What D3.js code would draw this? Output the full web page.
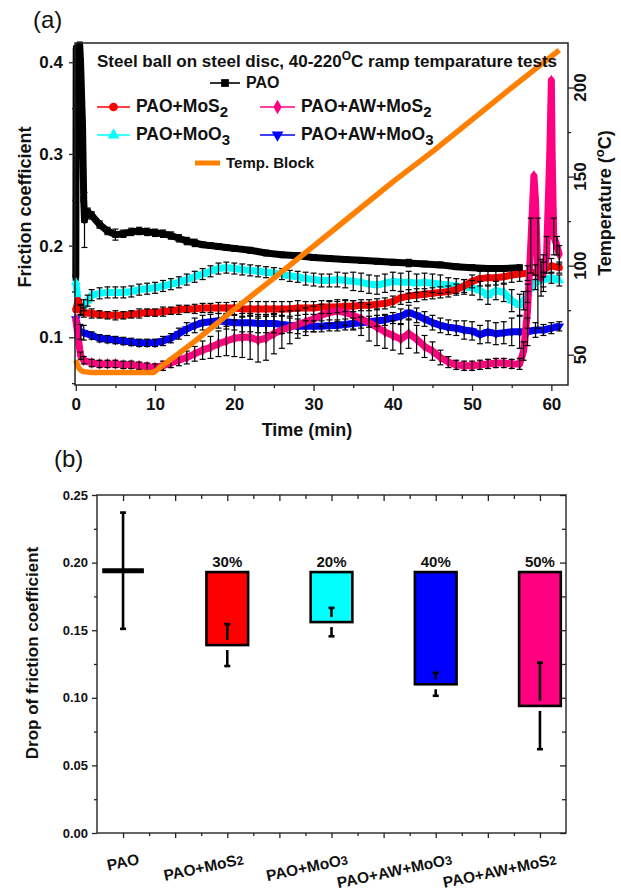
<!DOCTYPE html>
<html>
<head>
<meta charset="utf-8">
<script src="https://cdn.jsdelivr.net/npm/d3@7"></script>
<style>
  body { margin: 0; background: #fff; }
  svg { display: block; font-family: 'Liberation Sans', Arial, sans-serif; }
</style>
</head>
<body>
<div id="chart"></div>
<script>
// ---- panel (a): friction coefficient vs time, [min, mu, error bar]
const paoData = [
  [0,0.165,0],[0.05,0.415,0],[0.5,0.418,0.004],[0.6,0.4,0.004],[0.85,0.33,0],[1,0.25,0],[1.1,0.228,0.03],
  [1.5,0.237,0.004],[2,0.233,0.004],[3,0.223,0.004],[4,0.216,0.004],[5,0.212,0.006],[6,0.213,0.004],
  [7,0.215,0.004],[8,0.216,0.004],[9,0.215,0.004],[10,0.214,0.004],[11,0.213,0.004],[12,0.211,0.004],
  [13,0.208,0.004],[14,0.205,0.004],[15,0.203,0.004],[16,0.201,0.003],[17,0.2,0.003],[18,0.199,0.003],
  [19,0.198,0.003],[20,0.197,0.003],[22,0.195,0.003],[24,0.192,0.003],[26,0.19,0.003],[28,0.189,0.003],
  [30,0.187,0.003],[32,0.186,0.003],[34,0.185,0.003],[36,0.184,0.003],[38,0.183,0.003],[40,0.182,0.003],
  [42,0.181,0.004],[44,0.18,0.003],[46,0.179,0.003],[48,0.177,0.003],[50,0.176,0.003],[52,0.175,0.003],
  [54,0.175,0.003],[56,0.176,0.003]
];
const mos2Data = [
  [0,0.13,0],[0.3,0.14,0],[0.6,0.13,0.005],[1,0.127,0.005],[2,0.126,0.005],[3,0.125,0.004],[4,0.124,0.004],
  [5,0.124,0.005],[6,0.124,0.004],[7,0.125,0.004],[8,0.126,0.005],[9,0.127,0.004],[10,0.127,0.004],
  [11,0.128,0.005],[12,0.129,0.004],[13,0.13,0.005],[14,0.131,0.004],[15,0.131,0.005],[16,0.132,0.005],
  [17,0.132,0.005],[18,0.132,0.006],[19,0.132,0.006],[20,0.132,0.007],[21,0.131,0.008],[22,0.131,0.008],
  [23,0.131,0.008],[24,0.131,0.008],[25,0.131,0.008],[26,0.131,0.008],[27,0.131,0.008],[28,0.132,0.008],
  [29,0.132,0.007],[30,0.132,0.007],[31,0.133,0.007],[32,0.133,0.007],[33,0.133,0.006],[34,0.134,0.006],
  [35,0.134,0.006],[36,0.135,0.006],[37,0.135,0.006],[38,0.136,0.006],[39,0.137,0.006],[40,0.139,0.006],
  [41,0.143,0.007],[42,0.145,0.007],[43,0.146,0.007],[44,0.147,0.006],[45,0.148,0.006],[46,0.149,0.006],
  [47,0.15,0.006],[48,0.152,0.006],[49,0.156,0.007],[50,0.161,0.007],[51,0.164,0.008],[52,0.165,0.008],
  [53,0.165,0.008],[54,0.166,0.008],[55,0.168,0.008],[56,0.169,0.008],[57,0.17,0.008],[58,0.171,0.008],
  [59,0.174,0.008],[60,0.178,0.008],[61,0.176,0.006]
];
const moo3Data = [
  [0,0.16,0],[0.3,0.14,0],[0.6,0.13,0.006],[1,0.135,0.006],[1.5,0.14,0.006],[2,0.146,0.006],[3,0.148,0.006],
  [4,0.149,0.006],[5,0.149,0.006],[6,0.149,0.006],[7,0.15,0.006],[8,0.152,0.006],[9,0.153,0.006],
  [10,0.154,0.006],[11,0.156,0.006],[12,0.158,0.006],[13,0.16,0.006],[14,0.163,0.006],[15,0.166,0.006],
  [16,0.169,0.006],[17,0.172,0.006],[18,0.175,0.006],[19,0.176,0.006],[20,0.175,0.006],[21,0.174,0.006],
  [22,0.173,0.006],[23,0.172,0.006],[24,0.171,0.006],[25,0.17,0.006],[26,0.169,0.006],[27,0.167,0.006],
  [28,0.166,0.006],[29,0.164,0.007],[30,0.163,0.007],[31,0.162,0.007],[32,0.162,0.007],[33,0.163,0.008],
  [34,0.162,0.008],[35,0.161,0.01],[36,0.16,0.01],[37,0.158,0.01],[38,0.157,0.01],[39,0.159,0.01],
  [40,0.161,0.01],[41,0.16,0.01],[42,0.16,0.012],[43,0.159,0.01],[44,0.16,0.01],[45,0.159,0.01],
  [46,0.158,0.01],[47,0.157,0.008],[48,0.156,0.008],[49,0.155,0.008],[50,0.154,0.008],[51,0.151,0.01],
  [52,0.146,0.01],[53,0.151,0.01],[54,0.149,0.01],[55,0.14,0.012],[56,0.135,0.012],[56.5,0.14,0.01],
  [57,0.148,0.01],[58,0.16,0.008],[59,0.163,0.008],[60,0.165,0.006],[61,0.162,0.006]
];
const awMoo3Data = [
  [0,0.12,0],[0.3,0.11,0],[0.6,0.106,0.008],[1,0.105,0.008],[2,0.102,0.004],[3,0.099,0.004],[4,0.098,0.004],
  [5,0.097,0.004],[6,0.096,0.004],[7,0.095,0.004],[8,0.094,0.004],[9,0.094,0.004],[10,0.094,0.004],
  [11,0.096,0.005],[12,0.099,0.005],[13,0.104,0.006],[14,0.109,0.007],[15,0.113,0.008],[16,0.116,0.008],
  [17,0.117,0.008],[18,0.118,0.008],[19,0.117,0.008],[20,0.116,0.008],[21,0.116,0.01],[22,0.116,0.01],
  [23,0.115,0.01],[24,0.115,0.01],[25,0.115,0.01],[26,0.114,0.01],[27,0.113,0.008],[28,0.112,0.008],
  [29,0.112,0.006],[30,0.112,0.006],[31,0.112,0.006],[32,0.113,0.006],[33,0.113,0.006],[34,0.114,0.006],
  [35,0.115,0.006],[36,0.116,0.006],[37,0.117,0.006],[38,0.118,0.006],[39,0.119,0.006],[40,0.121,0.006],
  [41,0.123,0.008],[42,0.127,0.008],[43,0.124,0.008],[44,0.12,0.008],[45,0.116,0.008],[46,0.113,0.008],
  [47,0.111,0.008],[48,0.11,0.008],[49,0.108,0.01],[50,0.107,0.01],[51,0.103,0.01],[52,0.106,0.012],
  [53,0.104,0.012],[54,0.105,0.012],[55,0.106,0.015],[56,0.106,0.018],[57,0.106,0.015],[58,0.108,0.008],
  [59,0.108,0.006],[60,0.11,0.006],[61,0.112,0.005]
];
const awMos2Data = [
  [0,0.12,0],[0.3,0.1,0],[0.6,0.08,0.004],[1,0.075,0.004],[2,0.072,0.004],[3,0.071,0.004],[4,0.071,0.004],
  [5,0.071,0.004],[6,0.07,0.004],[7,0.07,0.004],[8,0.069,0.004],[9,0.068,0.004],[10,0.067,0.004],
  [11,0.069,0.005],[12,0.072,0.005],[13,0.075,0.006],[14,0.078,0.007],[15,0.082,0.008],[16,0.086,0.01],
  [17,0.089,0.012],[18,0.093,0.014],[19,0.096,0.016],[20,0.099,0.02],[21,0.1,0.022],[22,0.1,0.024],
  [23,0.097,0.024],[24,0.099,0.024],[25,0.104,0.022],[26,0.108,0.02],[27,0.111,0.018],[28,0.114,0.015],
  [29,0.117,0.015],[30,0.12,0.014],[31,0.124,0.012],[32,0.127,0.012],[33,0.129,0.012],[34,0.127,0.014],
  [35,0.124,0.016],[36,0.12,0.018],[37,0.116,0.02],[38,0.111,0.02],[39,0.106,0.018],[40,0.102,0.016],
  [41,0.098,0.016],[42,0.104,0.016],[43,0.098,0.015],[44,0.09,0.012],[45,0.085,0.01],[46,0.078,0.008],
  [47,0.073,0.006],[48,0.07,0.005],[49,0.069,0.005],[50,0.069,0.005],[51,0.07,0.005],[52,0.071,0.005],
  [53,0.072,0.005],[54,0.072,0.005],[55,0.071,0.005],[56,0.071,0.006],[56.5,0.085,0.01],[57,0.13,0.02],
  [57.4,0.2,0.03],[57.8,0.276,0],[58,0.25,0],[58.3,0.17,0.06],[58.7,0.165,0.02],[59,0.17,0.02],
  [59.4,0.19,0.02],[59.8,0.3,0],[60,0.38,0],[60.1,0.3,0],[60.3,0.21,0.02],[60.7,0.2,0.01],[61,0.19,0.01]
];
// block temperature, [min, degC]
const tempData = [
  [0,47],[0.3,43],[0.7,41],[1,40.5],[2,40],[5,40],[9.8,40],[15,57.5],[20,75.5],[25,93],[30,111],
  [35,129],[40,147],[45,164],[50,182],[55,200],[60,217.5],[61,221]
];
const frictionTicks = [0.1, 0.2, 0.3, 0.4];
const timeTicks = [0, 10, 20, 30, 40, 50, 60];
const tempTicks = [50, 100, 150, 200];

// ---- panel (b): drop of friction coefficient
const barCategories = ['PAO', 'PAO+MoS2', 'PAO+MoO3', 'PAO+AW+MoO3', 'PAO+AW+MoS2'];
const barValues = [0.194, 0.139, 0.156, 0.110, 0.094];
const barErrors = [0.043, 0.0155, 0.0105, 0.0085, 0.032];
const barDrops = ['', '30%', '20%', '40%', '50%'];
const paoLevel = 0.193;
const dropTicks = [0, 0.05, 0.10, 0.15, 0.20, 0.25];

const W = 621, H = 896;
const svg = d3.select('#chart').append('svg')
  .attr('width', W)
  .attr('height', H);

const chemText = (sel, label, subSize, dy) => {
  const m = label.match(/^(.*?)(\d?)$/);
  sel.append('tspan').text(m[1]);
  if (m[2]) {
    sel.append('tspan').attr('font-size', subSize).attr('dy', dy).text(m[2]);
  }
  return sel;
};

// ================= panel (a) =================
const a = {left: 75, right: 568, top: 43, bottom: 385};
const x = d3.scaleLinear([-0.1, 62.1], [a.left, a.right]);
const y = d3.scaleLinear([0.048, 0.421], [a.bottom, a.top]);
const yT = d3.scaleLinear([33, 225], [a.bottom, a.top]);

const series = [
  {name: 'PAO', data: paoData, color: '#000000', symbol: d3.symbolSquare, size: 40},
  {name: 'PAO+MoO3', data: moo3Data, color: '#00ffff', symbol: d3.symbolTriangle, size: 40},
  {name: 'PAO+MoS2', data: mos2Data, color: '#ff0000', symbol: d3.symbolCircle, size: 40},
  {name: 'PAO+AW+MoO3', data: awMoo3Data, color: '#0000ff', symbol: d3.symbolTriangle, size: 40, down: true},
  {name: 'PAO+AW+MoS2', data: awMos2Data, color: '#ff0080', symbol: d3.symbolDiamond, size: 40}
];

const plotA = svg.append('g');
const line = d3.line().x(d => x(d[0])).y(d => y(d[1]));

series.forEach(s => {
  const g = plotA.append('g');
  g.append('path')
    .datum(s.data)
    .attr('d', line)
    .attr('fill', 'none')
    .attr('stroke', s.color)
    .attr('stroke-width', 7)
    .attr('stroke-linejoin', 'round');
  g.selectAll('path.mk')
    .data(s.data)
    .join('path')
      .attr('class', 'mk')
      .attr('d', d3.symbol(s.symbol, s.size))
      .attr('transform', d => `translate(${x(d[0])},${y(d[1])})${s.down ? ' rotate(180)' : ''}`)
      .attr('fill', s.color);
});

// error bars on top of the bands
series.forEach(s => {
  const eb = plotA.append('g')
      .attr('stroke', '#000')
      .attr('stroke-width', 1.2)
    .selectAll('g')
    .data(s.data.filter(d => d[2] > 0))
    .join('g');
  eb.append('line')
    .attr('x1', d => x(d[0])).attr('x2', d => x(d[0]))
    .attr('y1', d => y(d[1] - d[2])).attr('y2', d => y(d[1] + d[2]));
  eb.append('line')
    .attr('x1', d => x(d[0]) - 3).attr('x2', d => x(d[0]) + 3)
    .attr('y1', d => y(d[1] + d[2])).attr('y2', d => y(d[1] + d[2]));
  eb.append('line')
    .attr('x1', d => x(d[0]) - 3).attr('x2', d => x(d[0]) + 3)
    .attr('y1', d => y(d[1] - d[2])).attr('y2', d => y(d[1] - d[2]));
});

// temperature of the block, right axis
plotA.append('path')
  .datum(tempData)
  .attr('d', d3.line().x(d => x(d[0])).y(d => yT(d[1])))
  .attr('fill', 'none')
  .attr('stroke', '#ff8000')
  .attr('stroke-width', 5.5)
  .attr('stroke-linejoin', 'round');

// frame
svg.append('rect')
  .attr('x', a.left).attr('y', a.top)
  .attr('width', a.right - a.left).attr('height', a.bottom - a.top)
  .attr('fill', 'none').attr('stroke', '#222').attr('stroke-width', 1.5);

const styleAxis = (g, size) => {
  g.select('.domain').remove();
  g.selectAll('.tick line').attr('stroke', '#222').attr('stroke-width', 1.3);
  g.selectAll('.tick text')
    .attr('fill', '#111')
    .attr('font-size', size)
    .attr('font-weight', 'bold')
    .attr('font-family', "'Liberation Sans', Arial, sans-serif");
};

svg.append('g')
  .attr('transform', `translate(${a.left},0)`)
  .call(d3.axisLeft(y).tickValues(frictionTicks).tickFormat(d3.format('.1f')).tickSize(6).tickPadding(6))
  .call(g => styleAxis(g, 17));
svg.append('g')
  .attr('transform', `translate(${a.left},0)`)
  .call(d3.axisLeft(y).tickValues([0.05, 0.15, 0.25, 0.35]).tickFormat('').tickSize(3))
  .call(g => styleAxis(g, 17));
svg.append('g')
  .attr('transform', `translate(0,${a.bottom})`)
  .call(d3.axisBottom(x).tickValues(timeTicks).tickFormat(d3.format('d')).tickSize(6).tickPadding(7))
  .call(g => styleAxis(g, 17));
svg.append('g')
  .attr('transform', `translate(0,${a.bottom})`)
  .call(d3.axisBottom(x).tickValues([5, 15, 25, 35, 45, 55]).tickFormat('').tickSize(3))
  .call(g => styleAxis(g, 17));
const gR = svg.append('g')
  .attr('transform', `translate(${a.right},0)`)
  .call(d3.axisRight(yT).tickValues(tempTicks).tickFormat('').tickSize(6))
  .call(g => styleAxis(g, 17));
gR.append('g')
  .call(d3.axisRight(yT).tickValues([75, 125, 175]).tickFormat('').tickSize(3))
  .call(g => styleAxis(g, 17));
gR.selectAll('text.tt')
  .data(tempTicks)
  .join('text')
    .attr('class', 'tt')
    .attr('transform', d => `translate(18,${yT(d)}) rotate(-90)`)
    .attr('text-anchor', 'middle')
    .attr('font-size', 17)
    .attr('font-weight', 'bold')
    .attr('fill', '#111')
    .text(d => d);

// axis titles
svg.append('text')
  .attr('transform', 'translate(31,207) rotate(-90)')
  .attr('text-anchor', 'middle')
  .attr('font-size', 18).attr('font-weight', 'bold').attr('fill', '#111')
  .text('Friction coefficient');
svg.append('text')
  .attr('x', 307).attr('y', 436)
  .attr('text-anchor', 'middle')
  .attr('font-size', 18).attr('font-weight', 'bold').attr('fill', '#111')
  .text('Time (min)');
const tTitle = svg.append('text')
  .attr('transform', 'translate(611,203) rotate(-90)')
  .attr('text-anchor', 'middle')
  .attr('font-size', 18).attr('font-weight', 'bold').attr('fill', '#111');
tTitle.append('tspan').text('Temperature (');
tTitle.append('tspan').attr('font-size', 13).attr('dy', -7).text('o');
tTitle.append('tspan').attr('dy', 7).text('C)');

svg.append('text')
  .attr('x', 33).attr('y', 28)
  .attr('font-size', 24).attr('fill', '#111')
  .text('(a)');

// legend
const lgTitle = svg.append('text')
  .attr('x', 97).attr('y', 67)
  .attr('font-size', 17).attr('font-weight', 'bold').attr('fill', '#111');
lgTitle.append('tspan').text('Steel ball on steel disc, 40-220');
lgTitle.append('tspan').attr('font-size', 12).attr('dy', -7).text('O');
lgTitle.append('tspan').attr('dy', 7).text('C ramp temparature tests');

const legendSpots = [
  {i: 0, x: 210, y: 83, w: 30},
  {i: 2, x: 97, y: 107, w: 33},
  {i: 4, x: 260, y: 107, w: 35},
  {i: 1, x: 97, y: 135, w: 33},
  {i: 3, x: 260, y: 135, w: 35}
];
legendSpots.forEach(p => {
  const s = series[p.i];
  const g = svg.append('g');
  g.append('line')
    .attr('x1', p.x).attr('x2', p.x + p.w)
    .attr('y1', p.y).attr('y2', p.y)
    .attr('stroke', s.color).attr('stroke-width', 1.6);
  g.append('path')
    .attr('d', d3.symbol(s.symbol, 60))
    .attr('transform', `translate(${p.x + p.w / 2},${p.y})${s.down ? ' rotate(180)' : ''}`)
    .attr('fill', s.color);
  const t = g.append('text')
    .attr('x', p.x + p.w + 6).attr('y', p.y + 5)
    .attr('font-size', p.i === 0 ? 16 : 17.5).attr('font-weight', 'bold').attr('fill', '#111');
  chemText(t, s.name, 15, 5);
});
svg.append('line')
  .attr('x1', 195).attr('x2', 220).attr('y1', 163).attr('y2', 163)
  .attr('stroke', '#ff8000').attr('stroke-width', 5);
svg.append('text')
  .attr('x', 226).attr('y', 168)
  .attr('font-size', 15).attr('font-weight', 'bold').attr('fill', '#111')
  .text('Temp. Block');

// ================= panel (b) =================
const b = {left: 97, right: 566, top: 495, bottom: 833};
const xb = d3.scaleLinear([0.5, 9.5], [b.left, b.right]);
const yb = d3.scaleLinear([0, 0.25], [b.bottom, b.top]);
const pos = d3.scalePoint(barCategories, [1, 9]);
const barColors = ['#000000', '#ff0000', '#00ffff', '#0000ff', '#ff0080'];
const half = 0.4;

const bars = barCategories.map((c, i) => ({
  cat: c, value: barValues[i], err: barErrors[i], drop: barDrops[i], color: barColors[i], i
}));

svg.selectAll('rect.bar')
  .data(bars.filter(d => d.i > 0))
  .join('rect')
    .attr('class', 'bar')
    .attr('x', d => xb(pos(d.cat) - half))
    .attr('width', d => xb(pos(d.cat) + half) - xb(pos(d.cat) - half))
    .attr('y', yb(paoLevel))
    .attr('height', d => yb(d.value) - yb(paoLevel))
    .attr('fill', d => d.color)
    .attr('stroke', '#000')
    .attr('stroke-width', 2.6);

// PAO reference level
svg.append('line')
  .attr('x1', xb(pos('PAO') - half)).attr('x2', xb(pos('PAO') + half))
  .attr('y1', yb(barValues[0])).attr('y2', yb(barValues[0]))
  .attr('stroke', '#000').attr('stroke-width', 5);

// error bars, a small gap where they cross the bar bottom edge
const eg = svg.append('g').attr('stroke', '#000').attr('stroke-width', 2.6);
bars.forEach(d => {
  const cx = xb(pos(d.cat));
  const yv = yb(d.value), yHi = yb(d.value + d.err), yLo = yb(d.value - d.err);
  const gap = d.i > 0 ? 5 : 0;
  eg.append('line').attr('x1', cx).attr('x2', cx).attr('y1', yHi).attr('y2', yv - gap);
  eg.append('line').attr('x1', cx).attr('x2', cx).attr('y1', yv + gap).attr('y2', yLo);
  [yHi, yLo].forEach(yy => {
    eg.append('line').attr('x1', cx - 3).attr('x2', cx + 3).attr('y1', yy).attr('y2', yy);
  });
});

svg.selectAll('text.drop')
  .data(bars.filter(d => d.drop))
  .join('text')
    .attr('class', 'drop')
    .attr('x', d => xb(pos(d.cat)))
    .attr('y', yb(paoLevel) - 5)
    .attr('text-anchor', 'middle')
    .attr('font-size', 15).attr('font-weight', 'bold').attr('fill', '#111')
    .text(d => d.drop);

svg.append('rect')
  .attr('x', b.left).attr('y', b.top)
  .attr('width', b.right - b.left).attr('height', b.bottom - b.top)
  .attr('fill', 'none').attr('stroke', '#333').attr('stroke-width', 1.5);

const majX = d3.range(1, 10), minX = d3.range(1.5, 9.5, 1);
svg.append('g')
  .attr('transform', `translate(${b.left},0)`)
  .call(d3.axisLeft(yb).tickValues(dropTicks).tickFormat(d3.format('.2f')).tickSize(5).tickPadding(4))
  .call(g => styleAxis(g, 13));
svg.append('g')
  .attr('transform', `translate(${b.left},0)`)
  .call(d3.axisLeft(yb).tickValues([0.025, 0.075, 0.125, 0.175, 0.225]).tickFormat('').tickSize(3))
  .call(g => styleAxis(g, 13));
svg.append('g')
  .attr('transform', `translate(${b.right},0)`)
  .call(d3.axisLeft(yb).tickValues(dropTicks).tickFormat('').tickSize(6))
  .call(g => styleAxis(g, 13));
svg.append('g')
  .attr('transform', `translate(${b.right},0)`)
  .call(d3.axisLeft(yb).tickValues([0.025, 0.075, 0.125, 0.175, 0.225]).tickFormat('').tickSize(4))
  .call(g => styleAxis(g, 13));
svg.append('g')
  .attr('transform', `translate(0,${b.bottom})`)
  .call(d3.axisBottom(xb).tickValues(majX).tickFormat('').tickSize(5))
  .call(g => styleAxis(g, 13));
svg.append('g')
  .attr('transform', `translate(0,${b.bottom})`)
  .call(d3.axisBottom(xb).tickValues(minX).tickFormat('').tickSize(3))
  .call(g => styleAxis(g, 13));
svg.append('g')
  .attr('transform', `translate(0,${b.top})`)
  .call(d3.axisBottom(xb).tickValues(majX).tickFormat('').tickSize(6))
  .call(g => styleAxis(g, 13));
svg.append('g')
  .attr('transform', `translate(0,${b.top})`)
  .call(d3.axisBottom(xb).tickValues(minX).tickFormat('').tickSize(4))
  .call(g => styleAxis(g, 13));

// slanted category labels
bars.forEach(d => {
  const t = svg.append('text')
    .attr('transform', `translate(${xb(pos(d.cat)) + 17},864) rotate(-12)`)
    .attr('text-anchor', 'end')
    .attr('font-size', 15.5).attr('font-weight', 'bold').attr('fill', '#111');
  chemText(t, d.cat, 12.5, 0);
});

svg.append('text')
  .attr('transform', 'translate(38,653) rotate(-90)')
  .attr('text-anchor', 'middle')
  .attr('font-size', 17).attr('font-weight', 'bold').attr('fill', '#111')
  .text('Drop of friction coefficient');

svg.append('text')
  .attr('x', 54).attr('y', 467)
  .attr('font-size', 24).attr('fill', '#111')
  .text('(b)');
</script>
</body>
</html>
